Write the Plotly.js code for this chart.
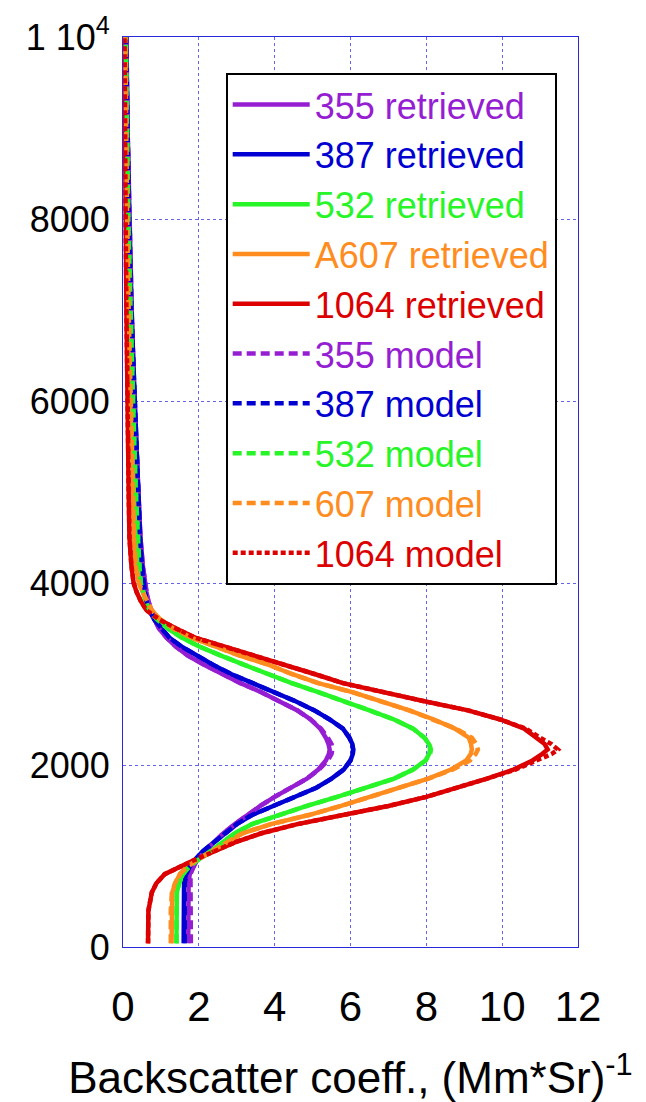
<!DOCTYPE html>
<html><head><meta charset="utf-8">
<script src="https://cdn.plot.ly/plotly-3.0.1.min.js"></script>
<style>html,body{margin:0;padding:0;background:#fff;}#chart{width:646px;height:1102px;}</style>
</head><body><div id="chart"></div>
<script>
// heights (m)
const heights = [40, 200, 400, 600, 700, 800, 875, 950, 1050, 1150, 1250, 1350, 1450, 1550, 1650, 1750, 1850, 1950, 2050, 2120, 2170, 2230, 2300, 2400, 2500, 2600, 2700, 2800, 2900, 3000, 3100, 3200, 3300, 3400, 3500, 3600, 3700, 3800, 3900, 4000, 4200, 4500, 5000, 5500, 6000, 7000, 8000, 9000, 10000];

// retrieved backscatter (Mm*Sr)^-1
const ret355  = [1.72, 1.72, 1.72, 1.72, 1.73, 1.76, 1.84, 1.95, 2.15, 2.40, 2.65, 2.95, 3.28, 3.62, 4.00, 4.45, 4.85, 5.15, 5.35, 5.43, 5.45, 5.42, 5.35, 5.20, 4.95, 4.60, 4.15, 3.65, 3.10, 2.60, 2.15, 1.72, 1.40, 1.15, 0.95, 0.83, 0.74, 0.67, 0.62, 0.59, 0.52, 0.46, 0.41, 0.35, 0.30, 0.23, 0.17, 0.12, 0.09];
const ret387  = [1.60, 1.60, 1.60, 1.60, 1.61, 1.66, 1.75, 1.88, 2.10, 2.40, 2.70, 3.00, 3.40, 3.95, 4.55, 5.10, 5.50, 5.82, 6.00, 6.06, 6.07, 6.05, 5.97, 5.80, 5.45, 5.05, 4.55, 3.98, 3.38, 2.85, 2.38, 1.95, 1.55, 1.22, 1.00, 0.82, 0.70, 0.62, 0.58, 0.55, 0.50, 0.45, 0.40, 0.34, 0.29, 0.22, 0.16, 0.12, 0.08];
const ret532  = [1.41, 1.41, 1.41, 1.42, 1.48, 1.58, 1.73, 1.95, 2.30, 2.65, 2.95, 3.40, 4.10, 4.85, 5.65, 6.45, 7.15, 7.65, 7.98, 8.07, 8.10, 8.07, 7.95, 7.65, 7.15, 6.50, 5.85, 5.15, 4.45, 3.80, 3.20, 2.60, 2.02, 1.55, 1.18, 0.90, 0.70, 0.60, 0.53, 0.47, 0.43, 0.39, 0.34, 0.30, 0.26, 0.20, 0.14, 0.10, 0.07];
const retA607 = [1.28, 1.28, 1.28, 1.30, 1.38, 1.50, 1.68, 1.92, 2.35, 2.75, 3.15, 3.90, 4.90, 5.75, 6.50, 7.30, 8.05, 8.65, 9.05, 9.17, 9.20, 9.18, 9.12, 8.75, 8.20, 7.55, 6.80, 6.05, 5.15, 4.45, 3.85, 3.10, 2.45, 1.80, 1.33, 0.98, 0.76, 0.63, 0.52, 0.42, 0.33, 0.29, 0.26, 0.23, 0.20, 0.15, 0.11, 0.08, 0.06];
const ret1064 = [0.66, 0.66, 0.67, 0.76, 0.88, 1.10, 1.45, 1.85, 2.40, 2.95, 3.65, 4.60, 5.80, 7.00, 8.00, 8.85, 9.60, 10.30, 10.80, 11.05, 11.20, 11.12, 10.90, 10.58, 9.95, 9.10, 7.95, 6.85, 5.80, 5.05, 4.25, 3.40, 2.60, 1.90, 1.40, 0.95, 0.62, 0.47, 0.36, 0.28, 0.22, 0.17, 0.15, 0.13, 0.12, 0.09, 0.07, 0.05, 0.04];

// model backscatter (Mm*Sr)^-1
const mod355  = [1.79, 1.79, 1.79, 1.79, 1.78, 1.78, 1.85, 1.95, 2.15, 2.40, 2.65, 2.95, 3.28, 3.62, 4.00, 4.45, 4.85, 5.17, 5.40, 5.50, 5.52, 5.50, 5.40, 5.22, 4.95, 4.60, 4.15, 3.65, 3.10, 2.60, 2.15, 1.72, 1.40, 1.15, 0.95, 0.83, 0.74, 0.67, 0.62, 0.59, 0.52, 0.46, 0.41, 0.35, 0.30, 0.23, 0.17, 0.12, 0.09];
const mod387  = [1.63, 1.63, 1.63, 1.63, 1.63, 1.67, 1.75, 1.88, 2.10, 2.40, 2.70, 3.00, 3.40, 3.95, 4.55, 5.10, 5.50, 5.82, 6.00, 6.06, 6.07, 6.05, 5.97, 5.80, 5.45, 5.05, 4.55, 3.98, 3.38, 2.85, 2.38, 1.95, 1.55, 1.22, 1.00, 0.82, 0.70, 0.62, 0.58, 0.55, 0.50, 0.45, 0.40, 0.34, 0.29, 0.22, 0.16, 0.12, 0.08];
const mod532  = [1.41, 1.41, 1.41, 1.42, 1.48, 1.58, 1.73, 1.95, 2.30, 2.65, 2.95, 3.40, 4.10, 4.85, 5.65, 6.45, 7.15, 7.65, 7.98, 8.10, 8.12, 8.08, 7.95, 7.65, 7.15, 6.50, 5.85, 5.15, 4.45, 3.80, 3.20, 2.60, 2.02, 1.55, 1.18, 0.90, 0.70, 0.60, 0.53, 0.47, 0.43, 0.39, 0.34, 0.30, 0.26, 0.20, 0.14, 0.10, 0.07];
const mod607  = [1.26, 1.26, 1.26, 1.29, 1.37, 1.50, 1.68, 1.92, 2.35, 2.75, 3.15, 3.90, 4.90, 5.75, 6.50, 7.30, 8.05, 8.70, 9.15, 9.30, 9.36, 9.32, 9.20, 8.78, 8.20, 7.55, 6.80, 6.05, 5.15, 4.45, 3.85, 3.10, 2.45, 1.80, 1.33, 0.98, 0.76, 0.63, 0.52, 0.42, 0.33, 0.29, 0.26, 0.23, 0.20, 0.15, 0.11, 0.08, 0.06];
const mod1064 = [0.66, 0.66, 0.67, 0.76, 0.88, 1.10, 1.45, 1.85, 2.40, 2.95, 3.65, 4.60, 5.80, 7.00, 8.00, 8.85, 9.60, 10.35, 10.90, 11.30, 11.47, 11.30, 11.00, 10.62, 9.95, 9.10, 7.95, 6.85, 5.80, 5.05, 4.25, 3.40, 2.60, 1.90, 1.40, 0.95, 0.62, 0.47, 0.36, 0.28, 0.22, 0.17, 0.15, 0.13, 0.12, 0.09, 0.07, 0.05, 0.04];

const seriesNames = ['355 retrieved', '387 retrieved', '532 retrieved', 'A607 retrieved', '1064 retrieved',
                     '355 model', '387 model', '532 model', '607 model', '1064 model'];
const yTickVals = [0, 2000, 4000, 6000, 8000, 10000];
const yTickText = ['0', '2000', '4000', '6000', '8000', '1 10<sup>4</sup>'];
const xTickVals = [0, 2, 4, 6, 8, 10, 12];

const cPurple = 'rgb(150,30,210)';
const cBlue = 'rgb(0,0,210)';
const cGreen = 'rgb(40,245,40)';
const cOrange = 'rgb(255,140,30)';
const cRed = 'rgb(220,0,0)';

const seriesX = [ret355, ret387, ret532, retA607, ret1064, mod355, mod387, mod532, mod607, mod1064];
const seriesColor = [cPurple, cBlue, cGreen, cOrange, cRed, cPurple, cBlue, cGreen, cOrange, cRed];
const seriesDash = ['solid', 'solid', 'solid', 'solid', 'solid', '9px,5px', '9px,5px', '9px,5px', '9px,5px', '5px,3px'];

const traces = seriesX.map((xs, i) => ({
  type: 'scatter', mode: 'lines',
  x: xs, y: heights,
  name: '<span style="color:' + seriesColor[i] + '">' + seriesNames[i] + '</span>',
  line: {color: seriesColor[i], width: 4.5, dash: seriesDash[i]}
}));

const font = 'Liberation Sans, Arial, sans-serif';
const layout = {
  width: 646, height: 1102,
  margin: {l: 123, r: 68, t: 37, b: 155},
  paper_bgcolor: '#fff', plot_bgcolor: '#fff',
  font: {family: font, color: '#000'},
  showlegend: true,
  legend: {
    x: 0.2257, y: 0.9608, xanchor: 'left', yanchor: 'top',
    bgcolor: '#fff', bordercolor: '#000', borderwidth: 2,
    font: {family: font, size: 36},
    itemwidth: 77, traceorder: 'normal'
  },
  xaxis: {
    range: [0, 12], tickvals: xTickVals, ticks: '',
    ticklabelstandoff: 23,
    tickfont: {family: font, size: 42},
    showgrid: true, gridcolor: 'rgba(60,60,230,0.8)', griddash: 'dot', gridwidth: 1,
    showline: true, linecolor: 'rgb(40,40,220)', linewidth: 1, mirror: true,
    zeroline: false, automargin: false,
    title: {text: 'Backscatter coeff., (Mm*Sr)<sup>-1</sup>', font: {family: font, size: 44}, standoff: 36}
  },
  yaxis: {
    range: [0, 10000], tickvals: yTickVals, ticktext: yTickText, ticks: '',
    ticklabelstandoff: 5,
    tickfont: {family: font, size: 36},
    showgrid: true, gridcolor: 'rgba(60,60,230,0.8)', griddash: 'dot', gridwidth: 1,
    showline: true, linecolor: 'rgb(40,40,220)', linewidth: 1, mirror: true,
    zeroline: false, automargin: false
  }
};

Plotly.newPlot('chart', traces, layout, {staticPlot: true, displayModeBar: false});
</script>
</body></html>
